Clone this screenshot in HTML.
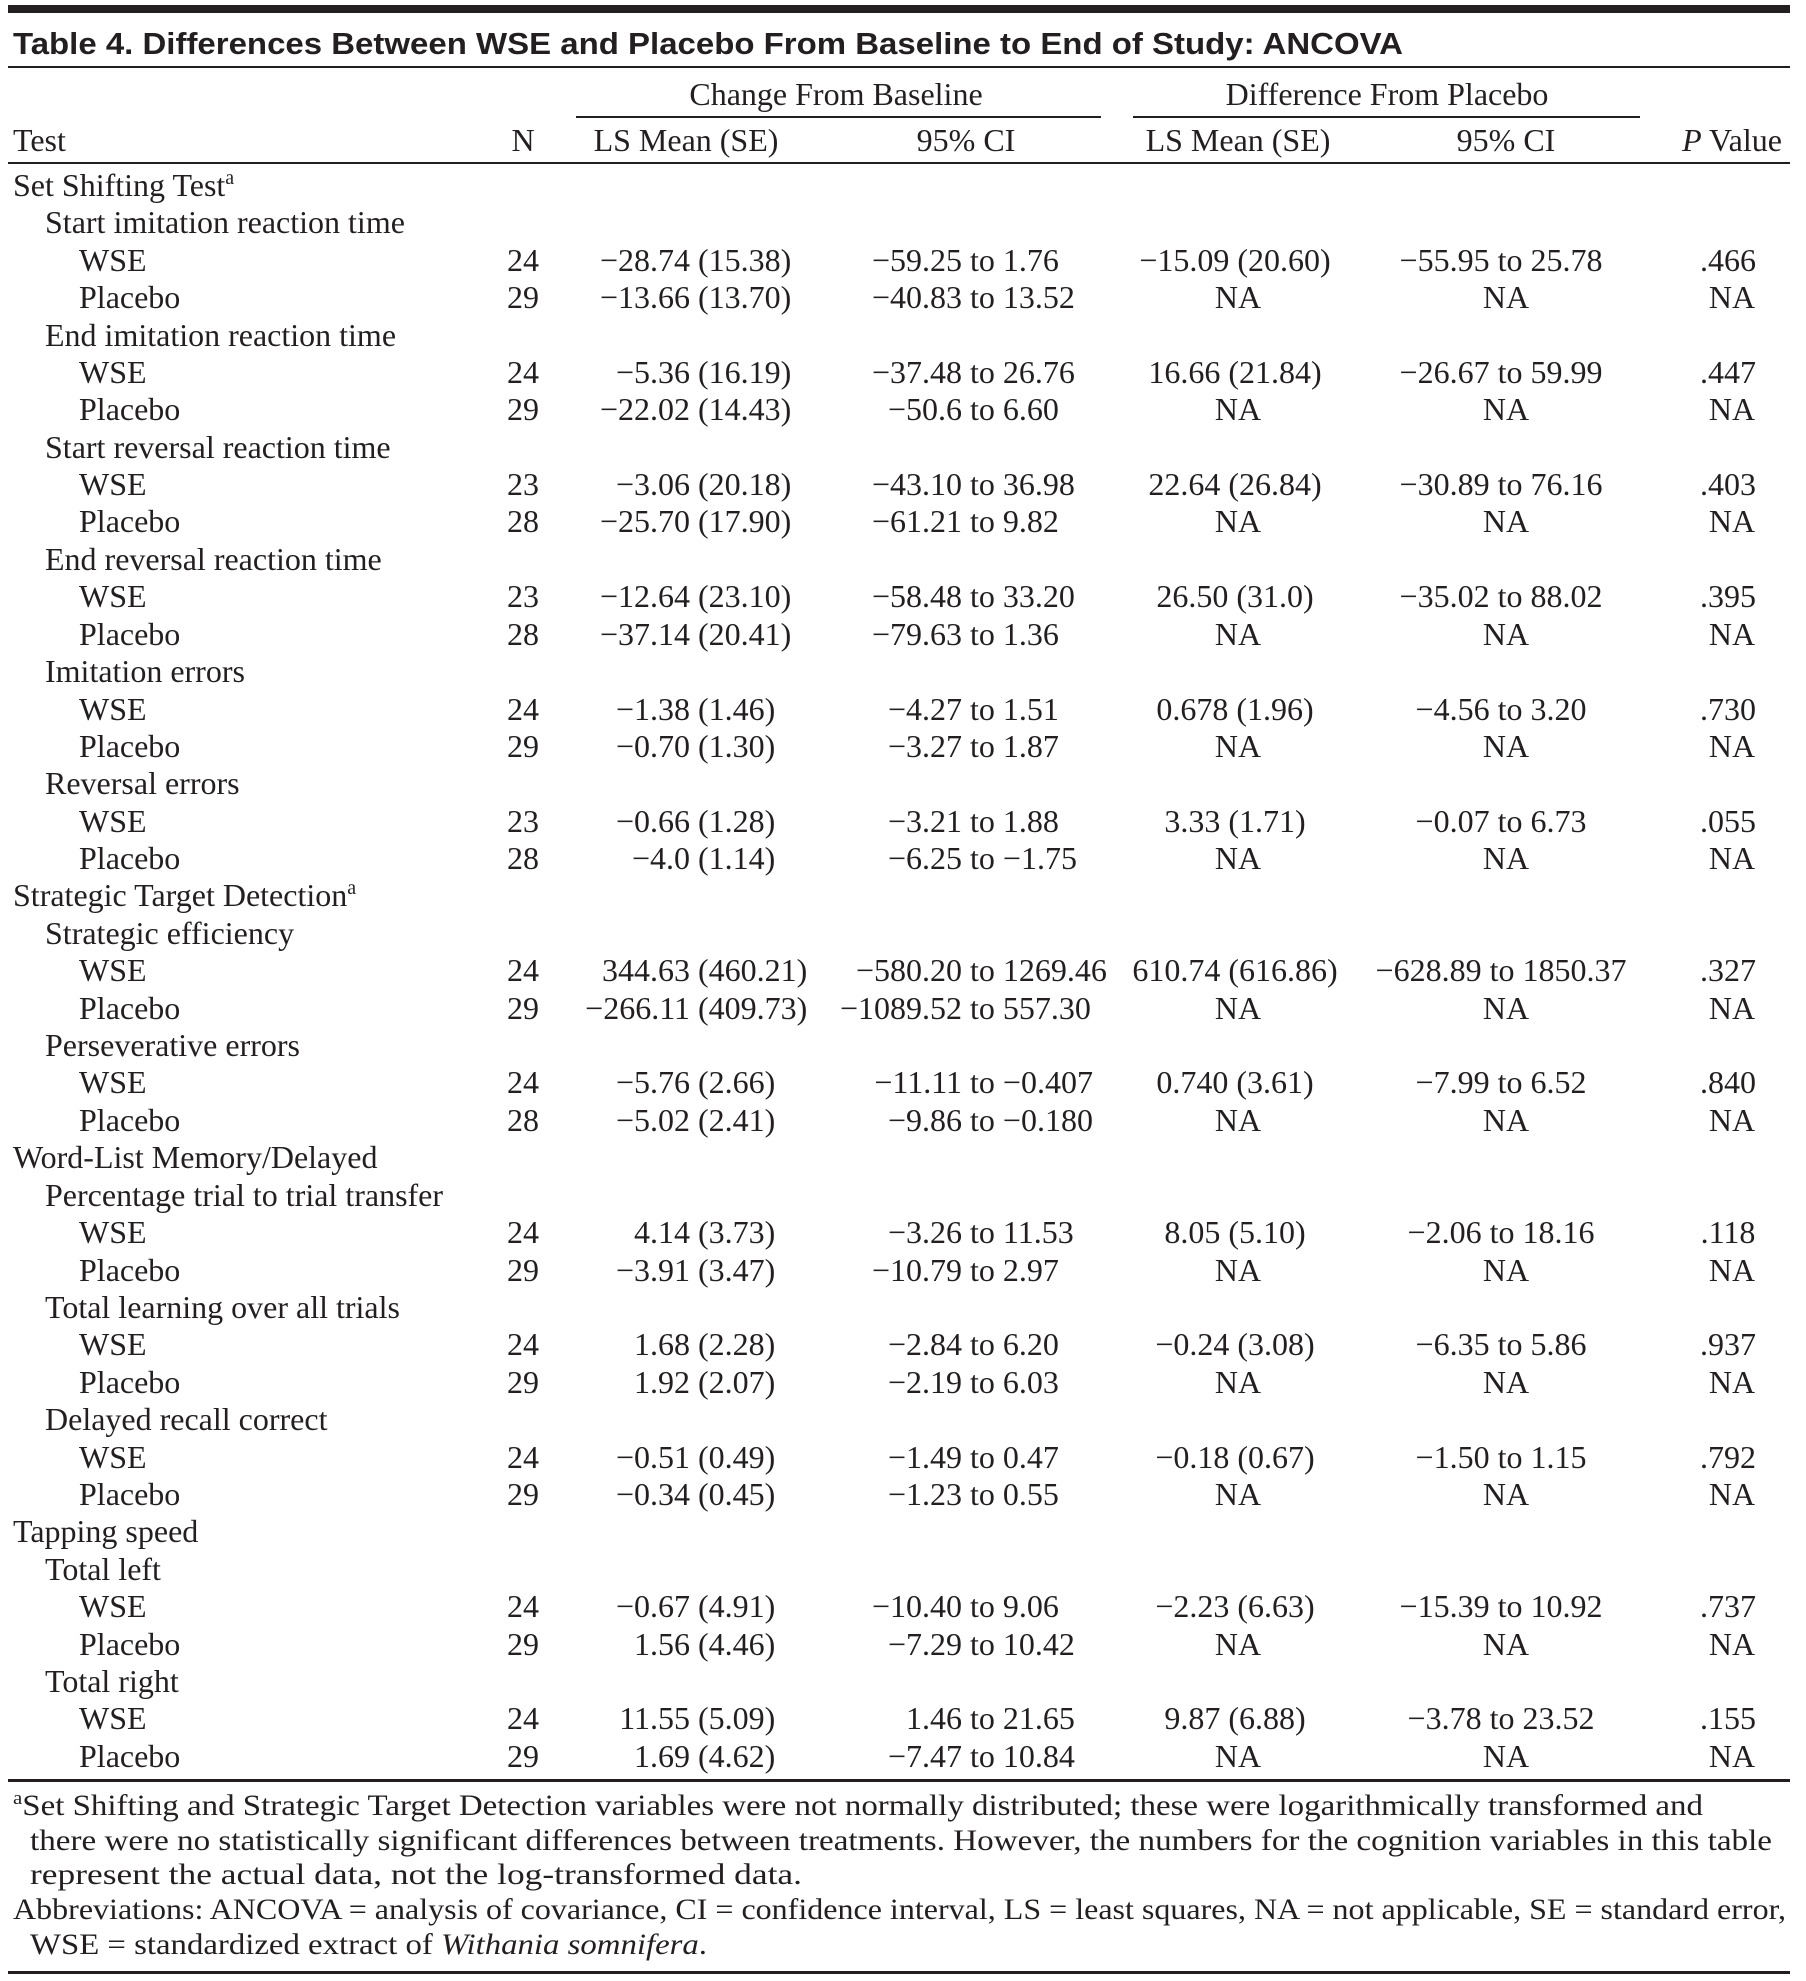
<!DOCTYPE html>
<html><head><meta charset="utf-8"><style>
html,body{margin:0;padding:0;background:#fff;}
svg{display:block;}
text{font-family:"Liberation Serif",serif;font-size:32px;fill:#231f20;}
.t{font-family:"Liberation Sans",sans-serif;font-weight:bold;font-size:31px;}
.m{text-anchor:middle}.e{text-anchor:end}
.f{font-size:30px}
</style></head><body>
<svg width="1806" height="1981" viewBox="0 0 1806 1981" xmlns="http://www.w3.org/2000/svg">
<rect x="8" y="5" width="1782" height="8" fill="#231f20"/>
<text class="t" x="13" y="54" textLength="1390" lengthAdjust="spacingAndGlyphs">Table 4. Differences Between WSE and Placebo From Baseline to End of Study: ANCOVA</text>
<rect x="8" y="66" width="1782" height="2" fill="#231f20"/>
<text class="m" x="836" y="105">Change From Baseline</text>
<text class="m" x="1387" y="105">Difference From Placebo</text>
<rect x="576" y="116" width="525" height="2" fill="#231f20"/>
<rect x="1133" y="116" width="507" height="2" fill="#231f20"/>
<text x="13" y="151">Test</text>
<text class="m" x="523" y="151">N</text>
<text class="m" x="686" y="151">LS Mean (SE)</text>
<text class="m" x="966" y="151">95% CI</text>
<text class="m" x="1238" y="151">LS Mean (SE)</text>
<text class="m" x="1506" y="151">95% CI</text>
<text class="m" x="1732" y="151"><tspan font-style="italic">P</tspan> Value</text>
<rect x="8" y="162" width="1782" height="2" fill="#231f20"/>

<g id="rows"></g>
<text x="13" y="196">Set Shifting Test<tspan font-size="20" dy="-12">a</tspan></text>
<text x="45" y="233">Start imitation reaction time</text>
<text x="79" y="271">WSE</text><text class="m" x="523" y="271">24</text><text class="e" x="690" y="271">−28.74</text><text x="698" y="271">(15.38)</text><text class="e" x="962" y="271">−59.25</text><text x="970" y="271">to 1.76</text><text class="m" x="1235" y="271">−15.09 (20.60)</text><text class="m" x="1501" y="271">−55.95 to 25.78</text><text class="m" x="1728" y="271">.466</text>
<text x="79" y="308">Placebo</text><text class="m" x="523" y="308">29</text><text class="e" x="690" y="308">−13.66</text><text x="698" y="308">(13.70)</text><text class="e" x="962" y="308">−40.83</text><text x="970" y="308">to 13.52</text><text class="m" x="1238" y="308">NA</text><text class="m" x="1506" y="308">NA</text><text class="m" x="1732" y="308">NA</text>
<text x="45" y="346">End imitation reaction time</text>
<text x="79" y="383">WSE</text><text class="m" x="523" y="383">24</text><text class="e" x="690" y="383">−5.36</text><text x="698" y="383">(16.19)</text><text class="e" x="962" y="383">−37.48</text><text x="970" y="383">to 26.76</text><text class="m" x="1235" y="383">16.66 (21.84)</text><text class="m" x="1501" y="383">−26.67 to 59.99</text><text class="m" x="1728" y="383">.447</text>
<text x="79" y="420">Placebo</text><text class="m" x="523" y="420">29</text><text class="e" x="690" y="420">−22.02</text><text x="698" y="420">(14.43)</text><text class="e" x="962" y="420">−50.6</text><text x="970" y="420">to  6.60</text><text class="m" x="1238" y="420">NA</text><text class="m" x="1506" y="420">NA</text><text class="m" x="1732" y="420">NA</text>
<text x="45" y="458">Start reversal reaction time</text>
<text x="79" y="495">WSE</text><text class="m" x="523" y="495">23</text><text class="e" x="690" y="495">−3.06</text><text x="698" y="495">(20.18)</text><text class="e" x="962" y="495">−43.10</text><text x="970" y="495">to 36.98</text><text class="m" x="1235" y="495">22.64 (26.84)</text><text class="m" x="1501" y="495">−30.89 to 76.16</text><text class="m" x="1728" y="495">.403</text>
<text x="79" y="532">Placebo</text><text class="m" x="523" y="532">28</text><text class="e" x="690" y="532">−25.70</text><text x="698" y="532">(17.90)</text><text class="e" x="962" y="532">−61.21</text><text x="970" y="532">to 9.82</text><text class="m" x="1238" y="532">NA</text><text class="m" x="1506" y="532">NA</text><text class="m" x="1732" y="532">NA</text>
<text x="45" y="570">End reversal reaction time</text>
<text x="79" y="607">WSE</text><text class="m" x="523" y="607">23</text><text class="e" x="690" y="607">−12.64</text><text x="698" y="607">(23.10)</text><text class="e" x="962" y="607">−58.48</text><text x="970" y="607">to 33.20</text><text class="m" x="1235" y="607">26.50 (31.0)</text><text class="m" x="1501" y="607">−35.02 to 88.02</text><text class="m" x="1728" y="607">.395</text>
<text x="79" y="645">Placebo</text><text class="m" x="523" y="645">28</text><text class="e" x="690" y="645">−37.14</text><text x="698" y="645">(20.41)</text><text class="e" x="962" y="645">−79.63</text><text x="970" y="645">to 1.36</text><text class="m" x="1238" y="645">NA</text><text class="m" x="1506" y="645">NA</text><text class="m" x="1732" y="645">NA</text>
<text x="45" y="682">Imitation errors</text>
<text x="79" y="720">WSE</text><text class="m" x="523" y="720">24</text><text class="e" x="690" y="720">−1.38</text><text x="698" y="720">(1.46)</text><text class="e" x="962" y="720">−4.27</text><text x="970" y="720">to 1.51</text><text class="m" x="1235" y="720">0.678 (1.96)</text><text class="m" x="1501" y="720">−4.56 to 3.20</text><text class="m" x="1728" y="720">.730</text>
<text x="79" y="757">Placebo</text><text class="m" x="523" y="757">29</text><text class="e" x="690" y="757">−0.70</text><text x="698" y="757">(1.30)</text><text class="e" x="962" y="757">−3.27</text><text x="970" y="757">to 1.87</text><text class="m" x="1238" y="757">NA</text><text class="m" x="1506" y="757">NA</text><text class="m" x="1732" y="757">NA</text>
<text x="45" y="794">Reversal errors</text>
<text x="79" y="832">WSE</text><text class="m" x="523" y="832">23</text><text class="e" x="690" y="832">−0.66</text><text x="698" y="832">(1.28)</text><text class="e" x="962" y="832">−3.21</text><text x="970" y="832">to 1.88</text><text class="m" x="1235" y="832">3.33 (1.71)</text><text class="m" x="1501" y="832">−0.07 to 6.73</text><text class="m" x="1728" y="832">.055</text>
<text x="79" y="869">Placebo</text><text class="m" x="523" y="869">28</text><text class="e" x="690" y="869">−4.0</text><text x="698" y="869">(1.14)</text><text class="e" x="962" y="869">−6.25</text><text x="970" y="869">to −1.75</text><text class="m" x="1238" y="869">NA</text><text class="m" x="1506" y="869">NA</text><text class="m" x="1732" y="869">NA</text>
<text x="13" y="906">Strategic Target Detection<tspan font-size="20" dy="-12">a</tspan></text>
<text x="45" y="944">Strategic efficiency</text>
<text x="79" y="981">WSE</text><text class="m" x="523" y="981">24</text><text class="e" x="690" y="981">344.63</text><text x="698" y="981">(460.21)</text><text class="e" x="962" y="981">−580.20</text><text x="970" y="981">to 1269.46</text><text class="m" x="1235" y="981">610.74 (616.86)</text><text class="m" x="1501" y="981">−628.89 to 1850.37</text><text class="m" x="1728" y="981">.327</text>
<text x="79" y="1019">Placebo</text><text class="m" x="523" y="1019">29</text><text class="e" x="690" y="1019">−266.11</text><text x="698" y="1019">(409.73)</text><text class="e" x="962" y="1019">−1089.52</text><text x="970" y="1019">to 557.30</text><text class="m" x="1238" y="1019">NA</text><text class="m" x="1506" y="1019">NA</text><text class="m" x="1732" y="1019">NA</text>
<text x="45" y="1056">Perseverative errors</text>
<text x="79" y="1093">WSE</text><text class="m" x="523" y="1093">24</text><text class="e" x="690" y="1093">−5.76</text><text x="698" y="1093">(2.66)</text><text class="e" x="962" y="1093">−11.11</text><text x="970" y="1093">to −0.407</text><text class="m" x="1235" y="1093">0.740 (3.61)</text><text class="m" x="1501" y="1093">−7.99 to 6.52</text><text class="m" x="1728" y="1093">.840</text>
<text x="79" y="1131">Placebo</text><text class="m" x="523" y="1131">28</text><text class="e" x="690" y="1131">−5.02</text><text x="698" y="1131">(2.41)</text><text class="e" x="962" y="1131">−9.86</text><text x="970" y="1131">to −0.180</text><text class="m" x="1238" y="1131">NA</text><text class="m" x="1506" y="1131">NA</text><text class="m" x="1732" y="1131">NA</text>
<text x="13" y="1168">Word-List Memory/Delayed</text>
<text x="45" y="1206">Percentage trial to trial transfer</text>
<text x="79" y="1243">WSE</text><text class="m" x="523" y="1243">24</text><text class="e" x="690" y="1243">4.14</text><text x="698" y="1243">(3.73)</text><text class="e" x="962" y="1243">−3.26</text><text x="970" y="1243">to 11.53</text><text class="m" x="1235" y="1243">8.05 (5.10)</text><text class="m" x="1501" y="1243">−2.06 to 18.16</text><text class="m" x="1728" y="1243">.118</text>
<text x="79" y="1281">Placebo</text><text class="m" x="523" y="1281">29</text><text class="e" x="690" y="1281">−3.91</text><text x="698" y="1281">(3.47)</text><text class="e" x="962" y="1281">−10.79</text><text x="970" y="1281">to 2.97</text><text class="m" x="1238" y="1281">NA</text><text class="m" x="1506" y="1281">NA</text><text class="m" x="1732" y="1281">NA</text>
<text x="45" y="1318">Total learning over all trials</text>
<text x="79" y="1355">WSE</text><text class="m" x="523" y="1355">24</text><text class="e" x="690" y="1355">1.68</text><text x="698" y="1355">(2.28)</text><text class="e" x="962" y="1355">−2.84</text><text x="970" y="1355">to 6.20</text><text class="m" x="1235" y="1355">−0.24 (3.08)</text><text class="m" x="1501" y="1355">−6.35 to 5.86</text><text class="m" x="1728" y="1355">.937</text>
<text x="79" y="1393">Placebo</text><text class="m" x="523" y="1393">29</text><text class="e" x="690" y="1393">1.92</text><text x="698" y="1393">(2.07)</text><text class="e" x="962" y="1393">−2.19</text><text x="970" y="1393">to 6.03</text><text class="m" x="1238" y="1393">NA</text><text class="m" x="1506" y="1393">NA</text><text class="m" x="1732" y="1393">NA</text>
<text x="45" y="1430">Delayed recall correct</text>
<text x="79" y="1468">WSE</text><text class="m" x="523" y="1468">24</text><text class="e" x="690" y="1468">−0.51</text><text x="698" y="1468">(0.49)</text><text class="e" x="962" y="1468">−1.49</text><text x="970" y="1468">to 0.47</text><text class="m" x="1235" y="1468">−0.18 (0.67)</text><text class="m" x="1501" y="1468">−1.50 to 1.15</text><text class="m" x="1728" y="1468">.792</text>
<text x="79" y="1505">Placebo</text><text class="m" x="523" y="1505">29</text><text class="e" x="690" y="1505">−0.34</text><text x="698" y="1505">(0.45)</text><text class="e" x="962" y="1505">−1.23</text><text x="970" y="1505">to 0.55</text><text class="m" x="1238" y="1505">NA</text><text class="m" x="1506" y="1505">NA</text><text class="m" x="1732" y="1505">NA</text>
<text x="13" y="1542">Tapping speed</text>
<text x="45" y="1580">Total left</text>
<text x="79" y="1617">WSE</text><text class="m" x="523" y="1617">24</text><text class="e" x="690" y="1617">−0.67</text><text x="698" y="1617">(4.91)</text><text class="e" x="962" y="1617">−10.40</text><text x="970" y="1617">to 9.06</text><text class="m" x="1235" y="1617">−2.23 (6.63)</text><text class="m" x="1501" y="1617">−15.39 to 10.92</text><text class="m" x="1728" y="1617">.737</text>
<text x="79" y="1655">Placebo</text><text class="m" x="523" y="1655">29</text><text class="e" x="690" y="1655">1.56</text><text x="698" y="1655">(4.46)</text><text class="e" x="962" y="1655">−7.29</text><text x="970" y="1655">to 10.42</text><text class="m" x="1238" y="1655">NA</text><text class="m" x="1506" y="1655">NA</text><text class="m" x="1732" y="1655">NA</text>
<text x="45" y="1692">Total right</text>
<text x="79" y="1729">WSE</text><text class="m" x="523" y="1729">24</text><text class="e" x="690" y="1729">11.55</text><text x="698" y="1729">(5.09)</text><text class="e" x="962" y="1729">1.46</text><text x="970" y="1729">to 21.65</text><text class="m" x="1235" y="1729">9.87 (6.88)</text><text class="m" x="1501" y="1729">−3.78 to 23.52</text><text class="m" x="1728" y="1729">.155</text>
<text x="79" y="1767">Placebo</text><text class="m" x="523" y="1767">29</text><text class="e" x="690" y="1767">1.69</text><text x="698" y="1767">(4.62)</text><text class="e" x="962" y="1767">−7.47</text><text x="970" y="1767">to 10.84</text><text class="m" x="1238" y="1767">NA</text><text class="m" x="1506" y="1767">NA</text><text class="m" x="1732" y="1767">NA</text>

<rect x="8" y="1779" width="1782" height="3" fill="#231f20"/>
<text class="f" x="13" y="1815" textLength="1690" lengthAdjust="spacingAndGlyphs"><tspan font-size="19" dy="-11">a</tspan><tspan dy="11">Set Shifting and Strategic Target Detection variables were not normally distributed; these were logarithmically transformed and</tspan></text>
<text class="f" x="30" y="1850" textLength="1742" lengthAdjust="spacingAndGlyphs">there were no statistically significant differences between treatments. However, the numbers for the cognition variables in this table</text>
<text class="f" x="30" y="1884" textLength="772" lengthAdjust="spacingAndGlyphs">represent the actual data, not the log-transformed data.</text>
<text class="f" x="13" y="1919" textLength="1773" lengthAdjust="spacingAndGlyphs">Abbreviations: ANCOVA = analysis of covariance, CI = confidence interval, LS = least squares, NA = not applicable, SE = standard error,</text>
<text class="f" x="30" y="1954" textLength="677" lengthAdjust="spacingAndGlyphs">WSE = standardized extract of <tspan font-style="italic">Withania somnifera</tspan>.</text>
<rect x="8" y="1971" width="1782" height="3" fill="#231f20"/>
</svg>
</body></html>
